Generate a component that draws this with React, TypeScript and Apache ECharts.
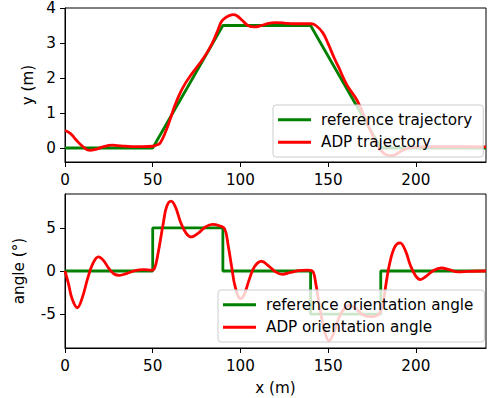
import React, { useEffect, useRef } from "react";
import * as echarts from "echarts";

const xTicks = [0, 50, 100, 150, 200];
const yTicksTop = [0, 1, 2, 3, 4];
const yTicksBottom = [-5, 0, 5];

const refTrajX = [0, 50, 90, 140, 180, 240];
const refTrajY = [0, 0, 3.5, 3.5, 0, 0];

const adpTrajX = [0, 3, 6, 10, 14, 18, 22, 27, 32, 38, 44, 50, 52, 54.2, 57, 59.9, 62.5, 65.6, 68.5, 71.3, 75, 78, 80.8, 84, 87, 89.3, 92, 94, 96, 98, 101, 104, 108, 112, 116, 120, 125, 130, 135, 140, 143, 147, 150, 153.5, 155.8, 160.6, 166.3, 170, 175, 178, 181, 183.5, 186.2, 189, 192, 196, 200, 205, 210, 220, 230, 240];
const adpTrajY = [0.5, 0.42, 0.25, 0.05, -0.07, -0.03, 0.04, 0.08, 0.06, 0.04, 0.04, 0.05, 0.08, 0.14, 0.42, 0.81, 1.2, 1.57, 1.84, 2.05, 2.3, 2.5, 2.71, 3.0, 3.35, 3.62, 3.74, 3.79, 3.81, 3.78, 3.65, 3.51, 3.46, 3.5, 3.56, 3.58, 3.57, 3.55, 3.55, 3.55, 3.5, 3.29, 2.98, 2.57, 2.33, 1.81, 1.38, 0.98, 0.4, 0.08, -0.12, -0.2, -0.22, -0.17, -0.08, 0.0, 0.03, 0.04, 0.04, 0.04, 0.04, 0.03];

const refAngX = [0, 50, 50, 90, 90, 140, 140, 180, 180, 240];
const refAngY = [0, 0, 5, 5, 0, 0, -5, -5, 0, 0];

const adpAngX = [0, 2, 4, 7, 10, 13, 16, 19, 22, 25, 28, 31, 35, 40, 45, 49, 51, 53, 56, 58, 60.5, 63, 66, 69, 72, 76, 80, 84, 88, 91, 93, 95, 97, 100, 102, 105, 108, 112, 116, 120, 124, 128, 133, 138, 141, 143, 145, 148, 150.5, 153, 156, 159, 162, 166, 170, 175, 179, 181, 183, 185, 188, 191, 194, 197, 200, 202.5, 206, 210, 214.5, 219, 224, 230, 240];
const adpAngY = [0, -1.5, -3.2, -4.26, -3.0, -0.8, 0.9, 1.63, 1.2, 0.3, -0.35, -0.5, -0.3, 0.05, 0.15, 0.1, 0.3, 2.0, 5.5, 7.5, 8.1, 7.4, 5.6, 4.4, 3.95, 4.4, 5.1, 5.4, 5.25, 4.9, 3.0, 0.5, -1.8, -3.2, -2.8, -1.0, 0.5, 1.13, 0.6, -0.1, -0.38, -0.2, 0.05, 0.1, 0.0, -1.5, -4.0, -7.0, -8.1, -7.3, -5.5, -4.4, -4.0, -4.4, -5.1, -5.3, -5.0, -4.0, -1.5, 0.8, 2.8, 3.26, 2.4, 0.6, -0.6, -1.0, -0.6, 0.05, 0.35, 0.15, -0.1, -0.05, 0];

const zip = (xs: number[], ys: number[]) => xs.map((x, i) => [x, ys[i]]);

const FONT = "DejaVu Sans";
const FS = 15.2;

export default function App() {
  const ref = useRef<HTMLDivElement>(null);
  useEffect(() => {
    if (!ref.current) return;
    const chart = echarts.init(ref.current, null, { renderer: "svg" });
    const xAxisBase = (gridIndex: number, name: string) => ({
      type: "value",
      gridIndex,
      min: 0,
      max: 240,
      name,
      nameLocation: "middle",
      nameGap: 32,
      nameTextStyle: { fontFamily: FONT, fontSize: FS, color: "#000" },
      splitLine: { show: false },
      axisLine: { show: true, onZero: false, lineStyle: { color: "#000", width: 1 } },
      axisTick: { show: true, inside: false, length: 5, lineStyle: { color: "#000" }, customValues: xTicks },
      axisLabel: { fontFamily: FONT, fontSize: FS, color: "#000", margin: 10, customValues: xTicks, showMinLabel: true, showMaxLabel: true },
    });
    const yAxisBase = (gridIndex: number, name: string, min: number, max: number, ticks: number[], gap: number) => ({
      type: "value",
      gridIndex,
      min,
      max,
      name,
      nameLocation: "middle",
      nameRotate: 90,
      nameGap: gap,
      nameTextStyle: { fontFamily: FONT, fontSize: FS, color: "#000" },
      splitLine: { show: false },
      axisLine: { show: true, onZero: false, lineStyle: { color: "#000", width: 1 } },
      axisTick: { show: true, inside: false, length: 5, lineStyle: { color: "#000" }, customValues: ticks },
      axisLabel: { fontFamily: FONT, fontSize: FS, color: "#000", margin: 9, customValues: ticks },
    });
    const legendBase = {
      orient: "vertical",
      icon: "rect",
      itemWidth: 33,
      itemHeight: 3,
      itemGap: 5,
      padding: [6, 11, 6, 5],
      backgroundColor: "rgba(255,255,255,0.8)",
      borderColor: "#cccccc",
      borderWidth: 1,
      borderRadius: 3,
      textStyle: { fontFamily: FONT, fontSize: FS, color: "#000", lineHeight: 17.5, padding: [0, 0, 0, 5] },
    };
    chart.setOption({
      animation: false,
      grid: [
        { left: 65, top: 8, width: 421, height: 154, show: true, borderColor: "#000", borderWidth: 1, containLabel: false },
        { left: 65, top: 194, width: 421, height: 154, show: true, borderColor: "#000", borderWidth: 1, containLabel: false },
      ],
      xAxis: [xAxisBase(0, ""), xAxisBase(1, "x (m)")],
      yAxis: [
        yAxisBase(0, "y (m)", -0.4, 4, yTicksTop, 25),
        yAxisBase(1, "angle (°)", -8.93, 8.93, yTicksBottom, 39),
      ],
      legend: [
        { ...legendBase, left: 273, top: 105, data: ["reference trajectory", "ADP trajectory"] },
        { ...legendBase, left: 218, top: 290, data: ["reference orientation angle", "ADP orientation angle"] },
      ],
      series: [
        { name: "reference trajectory", type: "line", xAxisIndex: 0, yAxisIndex: 0, data: zip(refTrajX, refTrajY), showSymbol: false, color: "#008000", lineStyle: { width: 2.8 } },
        { name: "ADP trajectory", type: "line", xAxisIndex: 0, yAxisIndex: 0, data: zip(adpTrajX, adpTrajY), showSymbol: false, smooth: 0.4, color: "#ff0000", lineStyle: { width: 2.8 } },
        { name: "reference orientation angle", type: "line", xAxisIndex: 1, yAxisIndex: 1, data: zip(refAngX, refAngY), showSymbol: false, color: "#008000", lineStyle: { width: 2.8 } },
        { name: "ADP orientation angle", type: "line", xAxisIndex: 1, yAxisIndex: 1, data: zip(adpAngX, adpAngY), showSymbol: false, smooth: 0.4, color: "#ff0000", lineStyle: { width: 2.8 } },
      ],
    });
    return () => chart.dispose();
  }, []);
  return <div ref={ref} style={{ width: 488, height: 398, position: "absolute", left: 0, top: 0 }} />;
}
